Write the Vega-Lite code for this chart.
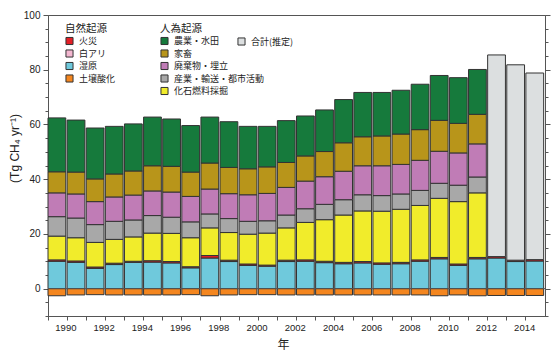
{
  "$schema": "https://vega.github.io/schema/vega-lite/v6.json",
  "width": 497,
  "height": 301,
  "autosize": {"type": "none"},
  "padding": {"left": 48, "top": 15, "right": 15, "bottom": 34},
  "background": "white",
  "config": {
    "view": {"stroke": "#555", "strokeWidth": 1},
    "font": "Liberation Sans",
    "legend": {
      "orient": "none",
      "titleFont": "Noto Sans CJK JP",
      "titleFontSize": 10.5,
      "titleFontWeight": "normal",
      "titleColor": "#222",
      "titlePadding": 2,
      "labelFont": "Noto Sans CJK JP",
      "labelFontSize": 9,
      "labelColor": "#222",
      "labelOffset": 5,
      "symbolType": "square",
      "symbolSize": 50,
      "symbolStrokeColor": "#333",
      "symbolStrokeWidth": 1,
      "symbolOpacity": 1,
      "rowPadding": -0.5
    }
  },
  "datasets": {
    "emis": [
      {"year": 1990, "wetland": 10.0, "fire": 0.5, "fossil": 8.7, "industry": 7.1, "waste": 8.7, "livestock": 7.7, "agri": 19.7, "soil": -2.6},
      {"year": 1991, "wetland": 9.6, "fire": 0.5, "fossil": 8.5, "industry": 7.2, "waste": 8.8, "livestock": 8.0, "agri": 19.0, "soil": -2.3},
      {"year": 1992, "wetland": 7.4, "fire": 0.5, "fossil": 9.0, "industry": 6.5, "waste": 8.4, "livestock": 8.3, "agri": 18.6, "soil": -2.2},
      {"year": 1993, "wetland": 8.8, "fire": 0.5, "fossil": 8.7, "industry": 6.6, "waste": 8.9, "livestock": 8.4, "agri": 17.4, "soil": -2.3},
      {"year": 1994, "wetland": 9.6, "fire": 0.4, "fossil": 8.9, "industry": 6.2, "waste": 9.1, "livestock": 8.8, "agri": 17.2, "soil": -2.3},
      {"year": 1995, "wetland": 9.7, "fire": 0.5, "fossil": 10.1, "industry": 6.4, "waste": 9.0, "livestock": 9.2, "agri": 17.8, "soil": -2.3},
      {"year": 1996, "wetland": 9.4, "fire": 0.5, "fossil": 10.3, "industry": 5.9, "waste": 9.2, "livestock": 9.4, "agri": 17.3, "soil": -2.3},
      {"year": 1997, "wetland": 7.6, "fire": 0.4, "fossil": 10.6, "industry": 5.8, "waste": 9.3, "livestock": 8.9, "agri": 17.0, "soil": -2.2},
      {"year": 1998, "wetland": 11.2, "fire": 0.9, "fossil": 10.1, "industry": 5.1, "waste": 9.1, "livestock": 9.5, "agri": 16.8, "soil": -2.6},
      {"year": 1999, "wetland": 9.9, "fire": 0.5, "fossil": 10.1, "industry": 5.1, "waste": 9.1, "livestock": 9.6, "agri": 16.7, "soil": -2.3},
      {"year": 2000, "wetland": 8.5, "fire": 0.5, "fossil": 10.9, "industry": 4.7, "waste": 9.7, "livestock": 9.5, "agri": 15.5, "soil": -2.2},
      {"year": 2001, "wetland": 8.2, "fire": 0.4, "fossil": 11.7, "industry": 4.5, "waste": 10.0, "livestock": 9.7, "agri": 14.8, "soil": -2.2},
      {"year": 2002, "wetland": 9.9, "fire": 0.5, "fossil": 11.8, "industry": 4.7, "waste": 10.1, "livestock": 9.1, "agri": 15.3, "soil": -2.3},
      {"year": 2003, "wetland": 10.0, "fire": 0.5, "fossil": 13.7, "industry": 5.0, "waste": 10.1, "livestock": 9.2, "agri": 14.6, "soil": -2.3},
      {"year": 2004, "wetland": 9.5, "fire": 0.5, "fossil": 15.2, "industry": 5.6, "waste": 10.1, "livestock": 9.2, "agri": 15.2, "soil": -2.3},
      {"year": 2005, "wetland": 9.1, "fire": 0.5, "fossil": 17.3, "industry": 5.6, "waste": 10.4, "livestock": 10.4, "agri": 15.8, "soil": -2.3},
      {"year": 2006, "wetland": 9.4, "fire": 0.5, "fossil": 18.5, "industry": 5.9, "waste": 10.6, "livestock": 10.6, "agri": 16.2, "soil": -2.3},
      {"year": 2007, "wetland": 8.9, "fire": 0.5, "fossil": 18.9, "industry": 5.7, "waste": 10.9, "livestock": 10.9, "agri": 15.9, "soil": -2.3},
      {"year": 2008, "wetland": 9.1, "fire": 0.5, "fossil": 19.4, "industry": 5.6, "waste": 10.8, "livestock": 11.1, "agri": 16.0, "soil": -2.3},
      {"year": 2009, "wetland": 10.0, "fire": 0.5, "fossil": 19.9, "industry": 5.5, "waste": 11.0, "livestock": 11.2, "agri": 16.6, "soil": -2.3},
      {"year": 2010, "wetland": 10.9, "fire": 0.5, "fossil": 21.6, "industry": 5.5, "waste": 11.7, "livestock": 11.3, "agri": 16.4, "soil": -2.6},
      {"year": 2011, "wetland": 8.5, "fire": 0.5, "fossil": 22.8, "industry": 6.0, "waste": 11.8, "livestock": 10.8, "agri": 16.7, "soil": -2.3},
      {"year": 2012, "wetland": 10.9, "fire": 0.5, "fossil": 23.6, "industry": 5.8, "waste": 12.1, "livestock": 10.8, "agri": 16.4, "soil": -2.6},
      {"year": 2013, "wetland": 11.2, "fire": 0.5, "total": 73.7, "soil": -2.5},
      {"year": 2014, "wetland": 9.9, "fire": 0.5, "total": 71.4, "soil": -2.5},
      {"year": 2015, "wetland": 10.1, "fire": 0.5, "total": 68.2, "soil": -2.5}
    ],
    "src": [
      {"key": "wetland", "source": "湿原", "group": "natural", "rank": 1},
      {"key": "fire", "source": "火災", "group": "natural", "rank": 2},
      {"key": "fossil", "source": "化石燃料採掘", "group": "anthro", "rank": 3},
      {"key": "industry", "source": "産業・輸送・都市活動", "group": "anthro", "rank": 4},
      {"key": "waste", "source": "廃棄物・埋立", "group": "anthro", "rank": 5},
      {"key": "livestock", "source": "家畜", "group": "anthro", "rank": 6},
      {"key": "agri", "source": "農業・水田", "group": "anthro", "rank": 7},
      {"key": "total", "source": "合計(推定)", "group": "total", "rank": 8},
      {"key": "soil", "source": "土壌酸化", "group": "natural", "rank": 0}
    ]
  },
  "data": {"name": "emis"},
  "transform": [
    {"fold": ["wetland", "fire", "fossil", "industry", "waste", "livestock", "agri", "total", "soil"], "as": ["key", "value"]},
    {"filter": "isValid(datum.value)"},
    {"lookup": "key", "from": {"data": {"name": "src"}, "key": "key", "fields": ["source", "group", "rank"]}},
    {"stack": "value", "groupby": ["year"], "sort": [{"field": "rank", "order": "ascending"}], "as": ["v0", "v1"]}
  ],
  "layer": [
    {
      "transform": [{"filter": "datum.group == 'natural'"}],
      "mark": {"type": "bar", "stroke": "#333", "strokeWidth": 1},
      "encoding": {
        "x": {
          "field": "year", "type": "ordinal",
          "scale": {"paddingInner": 0.07, "paddingOuter": 0.035, "align": 0},
          "axis": {
            "bandPosition": 0,
            "labelExpr": "datum.value % 2 == 0 ? datum.label : ''",
            "labelAngle": 0, "labelFontSize": 9.5, "labelColor": "#222", "labelPadding": 2, "labelOffset": 9,
            "tickSize": 4, "tickColor": "#555", "domainColor": "#555",
            "title": "年", "titleFont": "Noto Sans CJK JP", "titleFontSize": 12, "titleFontWeight": "normal",
            "titleColor": "#222", "titleX": 235, "titleY": 23, "titleBaseline": "top", "titleAlign": "center"
          }
        },
        "y": {
          "field": "v0", "type": "quantitative",
          "scale": {"domain": [-10, 100], "nice": false, "zero": false},
          "axis": {
            "values": [-10, -5, 0, 5, 10, 15, 20, 25, 30, 35, 40, 45, 50, 55, 60, 65, 70, 75, 80, 85, 90, 95, 100],
            "labelExpr": "datum.value % 20 == 0 ? datum.label : ''",
            "tickSize": {"condition": {"test": "datum.value % 20 == 0", "value": 5}, "value": 3},
            "labelFontSize": 10, "labelColor": "#222", "labelPadding": 3,
            "tickColor": "#555", "domainColor": "#555", "grid": false,
            "title": "(Tg CH₄ yr⁻¹)", "titleFontSize": 12, "titleFontWeight": "normal", "titleColor": "#222",
            "titleX": -27, "titleY": 133, "titleBaseline": "bottom", "titleAlign": "center", "titleAngle": -90
          }
        },
        "y2": {"field": "v1"},
        "color": {
          "field": "source", "type": "nominal",
          "scale": {"domain": ["火災", "白アリ", "湿原", "土壌酸化"], "range": ["#e41f26", "#f3b7d0", "#6fc9dc", "#f4861f"]},
          "legend": {"title": "自然起源", "legendX": 17, "legendY": 9}
        }
      }
    },
    {
      "transform": [{"filter": "datum.group == 'anthro'"}],
      "mark": {"type": "bar", "stroke": "#333", "strokeWidth": 1},
      "encoding": {
        "x": {"field": "year", "type": "ordinal"},
        "y": {"field": "v0", "type": "quantitative", "axis": null},
        "y2": {"field": "v1"},
        "color": {
          "field": "source", "type": "nominal",
          "scale": {"domain": ["農業・水田", "家畜", "廃棄物・埋立", "産業・輸送・都市活動", "化石燃料採掘"], "range": ["#167a3c", "#b8951a", "#c07cb6", "#a8a8a8", "#f1ec2b"]},
          "legend": {"title": "人為起源", "legendX": 112, "legendY": 9}
        }
      }
    },
    {
      "transform": [{"filter": "datum.group == 'total'"}],
      "mark": {"type": "bar", "stroke": "#333", "strokeWidth": 1},
      "encoding": {
        "x": {"field": "year", "type": "ordinal"},
        "y": {"field": "v0", "type": "quantitative", "axis": null},
        "y2": {"field": "v1"},
        "color": {
          "field": "source", "type": "nominal",
          "scale": {"domain": ["合計(推定)"], "range": ["#dcdfe0"]},
          "legend": {"title": null, "legendX": 189, "legendY": 22}
        }
      }
    },
    {
      "data": {"values": [{}]},
      "mark": {"type": "rule", "color": "#555", "strokeWidth": 1},
      "encoding": {
        "y": {
          "datum": 0, "type": "quantitative",
          "axis": {
            "orient": "right",
            "values": [-10, -5, 0, 5, 10, 15, 20, 25, 30, 35, 40, 45, 50, 55, 60, 65, 70, 75, 80, 85, 90, 95, 100],
            "labels": false, "title": null, "grid": false,
            "tickSize": {"condition": {"test": "datum.value % 20 == 0", "value": 5}, "value": 3},
            "tickColor": "#555", "domainColor": "#555"
          }
        }
      }
    }
  ],
  "resolve": {"scale": {"color": "independent"}, "axis": {"y": "independent"}}
}
